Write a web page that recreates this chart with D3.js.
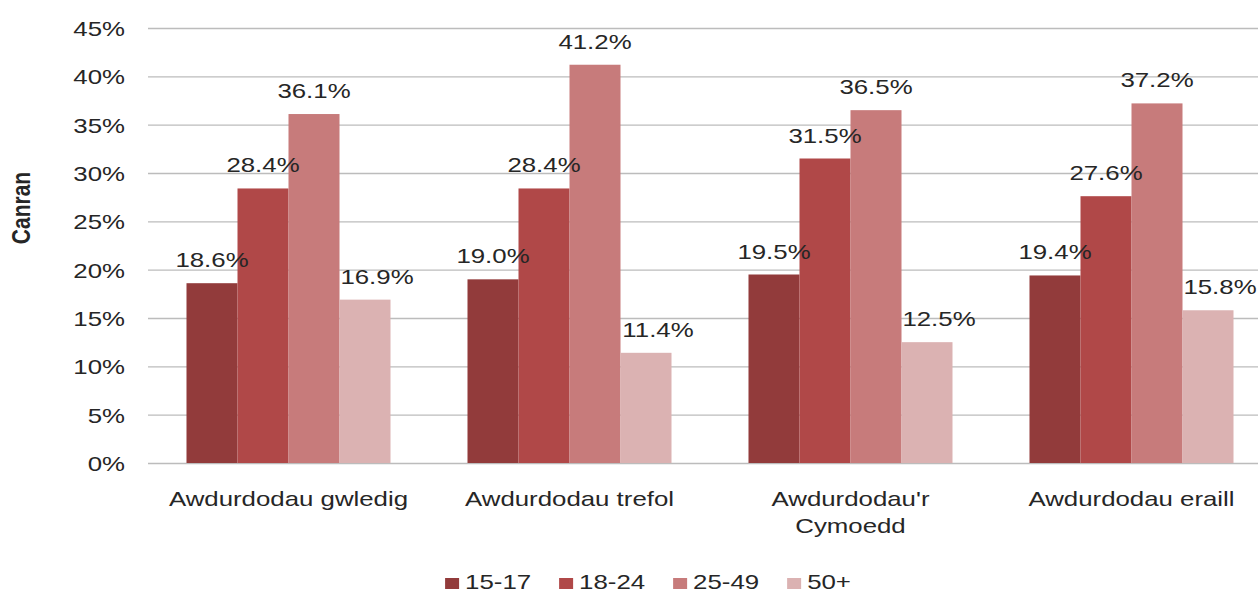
<!DOCTYPE html>
<html>
<head>
<meta charset="utf-8">
<script src="https://cdn.jsdelivr.net/npm/d3@7"></script>
<style>
  body { margin: 0; background: #fff; }
  text { font-family: "Liberation Sans", Arial, sans-serif; fill: #262626; }
</style>
</head>
<body>
<script>
const categories = ['Awdurdodau gwledig', 'Awdurdodau trefol', "Awdurdodau'r Cymoedd", 'Awdurdodau eraill'];
const series = ['15-17', '18-24', '25-49', '50+'];
const values15_17 = [18.6, 19.0, 19.5, 19.4];
const values18_24 = [28.4, 28.4, 31.5, 27.6];
const values25_49 = [36.1, 41.2, 36.5, 37.2];
const values50plus = [16.9, 11.4, 12.5, 15.8];
const yTicks = [0, 5, 10, 15, 20, 25, 30, 35, 40, 45];

const seriesValues = [values15_17, values18_24, values25_49, values50plus];
const colors = ['#923b3b', '#b04848', '#c77b7b', '#dbb2b2'];
const labelNudge = [0, 0, 0, 12]; // the 50+ labels sit a little right of their bars

const width = 1258, height = 592;
const plotLeft = 148, plotRight = 1272, plotTop = 28, plotBottom = 463;
const sx = 1.23; // the text in the picture is stretched sideways
const fontSize = 21;

const svg = d3.select('body')
  .append('svg')
  .attr('width', width)
  .attr('height', height);

const x0 = d3.scaleBand()
  .domain(categories)
  .range([plotLeft, plotRight])
  .paddingInner(0.274)
  .paddingOuter(0.137);

const x1 = d3.scaleBand()
  .domain(series)
  .range([0, x0.bandwidth()]);

const y = d3.scaleLinear()
  .domain([0, 45])
  .range([plotBottom, plotTop]);

// gridlines + tick labels
const yAxis = d3.axisLeft(y)
  .tickValues(yTicks)
  .tickSize(-(width - plotLeft))
  .tickFormat((d) => d + '%');

const gy = svg.append('g')
  .attr('transform', 'translate(' + plotLeft + ',0)')
  .call(yAxis);
gy.select('.domain').remove();
gy.selectAll('.tick line').attr('stroke', '#bcbcbc').attr('stroke-width', 1.3);
gy.selectAll('.tick text')
  .attr('x', -23 / sx)
  .attr('dy', '0.36em')
  .attr('transform', 'scale(' + sx + ',1)')
  .style('font-size', fontSize + 'px')
  .style('font-family', '"Liberation Sans", Arial, sans-serif')
  .attr('fill', '#262626');

// bars
const groups = svg.append('g')
  .selectAll('g')
  .data(categories)
  .enter()
  .append('g')
  .attr('transform', (d) => 'translate(' + x0(d) + ',0)');

groups.selectAll('rect')
  .data((d, i) => series.map((s, j) => ({ s: s, j: j, v: seriesValues[j][i] })))
  .enter()
  .append('rect')
  .attr('x', (d) => x1(d.s))
  .attr('y', (d) => y(d.v))
  .attr('width', x1.bandwidth())
  .attr('height', (d) => y(0) - y(d.v))
  .attr('fill', (d) => colors[d.j]);

groups.selectAll('text')
  .data((d, i) => series.map((s, j) => ({ s: s, j: j, v: seriesValues[j][i] })))
  .enter()
  .append('text')
  .attr('transform', (d) => 'translate(' + (x1(d.s) + x1.bandwidth() / 2 + labelNudge[d.j]) + ',' + (y(d.v) - 16) + ') scale(' + sx + ',1)')
  .attr('text-anchor', 'middle')
  .style('font-size', fontSize + 'px')
  .text((d) => d.v.toFixed(1) + '%');

// category labels
const xAxis = d3.axisBottom(x0).tickSize(0).tickFormat('');
const gx = svg.append('g')
  .attr('transform', 'translate(0,' + plotBottom + ')')
  .call(xAxis);
gx.select('.domain').remove();

svg.append('g')
  .selectAll('text')
  .data(categories)
  .enter()
  .append('text')
  .attr('transform', (d) => 'translate(' + (x0(d) + x0.bandwidth() / 2) + ',506) scale(' + sx + ',1)')
  .attr('text-anchor', 'middle')
  .style('font-size', fontSize + 'px')
  .each(function(d) {
    const lines = d === "Awdurdodau'r Cymoedd" ? ["Awdurdodau'r", 'Cymoedd'] : [d];
    const t = d3.select(this);
    lines.forEach((l, k) => {
      t.append('tspan').attr('x', 0).attr('y', k * 27).text(l);
    });
  });

// y title
svg.append('text')
  .attr('transform', 'translate(30,208) scale(' + sx + ',1) rotate(-90)')
  .attr('text-anchor', 'middle')
  .style('font-size', fontSize + 'px')
  .style('font-weight', 'bold')
  .text('Canran');

// legend
const legend = svg.append('g');
let lx = 0;
series.forEach((s, j) => {
  const item = legend.append('g').attr('transform', 'translate(' + lx + ',0)');
  item.append('rect')
    .attr('x', 0)
    .attr('y', -11)
    .attr('width', 14)
    .attr('height', 11)
    .attr('fill', colors[j]);
  const t = item.append('text')
    .attr('transform', 'translate(20,0) scale(' + sx + ',1)')
    .style('font-size', fontSize + 'px')
    .text(s);
  lx += 20 + t.node().getComputedTextLength() * sx + 28;
});
const legendWidth = lx - 28;
legend.attr('transform', 'translate(' + (648 - legendWidth / 2) + ',589)');
</script>
</body>
</html>
